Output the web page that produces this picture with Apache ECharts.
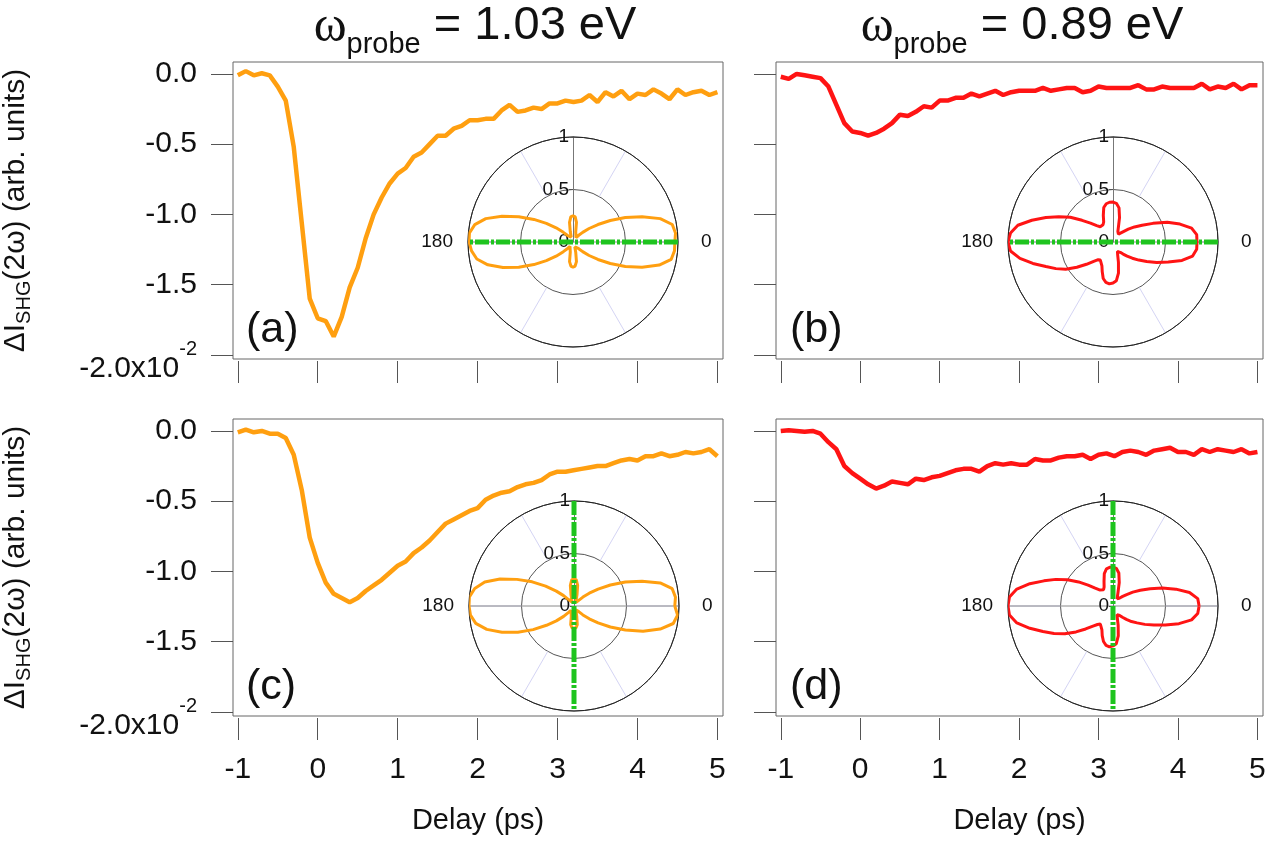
<!DOCTYPE html>
<html><head><meta charset="utf-8">
<script src="https://cdn.jsdelivr.net/npm/echarts@6/dist/echarts.min.js"></script>
<style>html,body{margin:0;padding:0;background:#fff}#c{width:1286px;height:846px}</style>
</head><body><div id="c"></div>
<script>
// ---------- data ----------
const delay = [-1,-0.9,-0.8,-0.7,-0.6,-0.5,-0.4,-0.3,-0.2,-0.1,0,0.1,0.2,0.3,0.4,0.5,0.6,0.7,0.8,0.9,1,1.1,1.2,1.3,1.4,1.5,1.6,1.7,1.8,1.9,2,2.1,2.2,2.3,2.4,2.5,2.6,2.7,2.8,2.9,3,3.1,3.2,3.3,3.4,3.5,3.6,3.7,3.8,3.9,4,4.1,4.2,4.3,4.4,4.5,4.6,4.7,4.8,4.9,5];
const traceA = [-0.01,0.02,-0.01,0.005,-0.01,-0.09,-0.19,-0.52,-1.06,-1.60,-1.74,-1.76,-1.87,-1.73,-1.52,-1.38,-1.17,-1.0,-0.88,-0.78,-0.71,-0.67,-0.59,-0.56,-0.50,-0.44,-0.44,-0.39,-0.37,-0.33,-0.33,-0.32,-0.32,-0.26,-0.22,-0.27,-0.26,-0.24,-0.25,-0.21,-0.21,-0.19,-0.20,-0.19,-0.15,-0.20,-0.13,-0.16,-0.12,-0.18,-0.14,-0.15,-0.11,-0.14,-0.18,-0.11,-0.15,-0.13,-0.12,-0.15,-0.13];
const traceB = [-0.02,-0.035,0.0,-0.01,-0.02,-0.03,-0.09,-0.22,-0.35,-0.41,-0.42,-0.44,-0.42,-0.39,-0.35,-0.29,-0.30,-0.27,-0.23,-0.24,-0.19,-0.19,-0.17,-0.17,-0.14,-0.16,-0.14,-0.12,-0.15,-0.13,-0.12,-0.12,-0.12,-0.10,-0.12,-0.11,-0.10,-0.10,-0.13,-0.12,-0.09,-0.10,-0.10,-0.10,-0.10,-0.08,-0.11,-0.11,-0.09,-0.10,-0.10,-0.10,-0.10,-0.07,-0.11,-0.09,-0.10,-0.07,-0.11,-0.08,-0.08];
const traceC = [-0.01,0.01,-0.01,0.0,-0.02,-0.02,-0.05,-0.17,-0.42,-0.76,-0.94,-1.08,-1.16,-1.19,-1.22,-1.19,-1.14,-1.10,-1.06,-1.01,-0.96,-0.93,-0.87,-0.83,-0.78,-0.72,-0.66,-0.63,-0.60,-0.57,-0.55,-0.49,-0.46,-0.44,-0.43,-0.40,-0.38,-0.37,-0.35,-0.31,-0.29,-0.29,-0.28,-0.27,-0.26,-0.25,-0.25,-0.23,-0.21,-0.20,-0.21,-0.18,-0.18,-0.16,-0.18,-0.17,-0.15,-0.16,-0.15,-0.13,-0.18];
const traceD = [0.0,0.005,0.0,-0.005,0.0,-0.02,-0.08,-0.13,-0.25,-0.30,-0.34,-0.38,-0.41,-0.39,-0.36,-0.37,-0.38,-0.34,-0.35,-0.33,-0.32,-0.30,-0.28,-0.27,-0.27,-0.29,-0.25,-0.23,-0.24,-0.23,-0.24,-0.24,-0.20,-0.21,-0.21,-0.19,-0.18,-0.18,-0.17,-0.20,-0.17,-0.16,-0.18,-0.15,-0.14,-0.15,-0.17,-0.14,-0.13,-0.12,-0.15,-0.15,-0.17,-0.13,-0.15,-0.13,-0.14,-0.15,-0.13,-0.16,-0.15];

const polarAngles = [0,5,10,15,20,25,30,35,40,45,50,55,60,65,70,75,80,85,90,95,100,105,110,115,120,125,130,135,140,145,150,155,160,165,170,175,180,185,190,195,200,205,210,215,220,225,230,235,240,245,250,255,260,265,270,275,280,285,290,295,300,305,310,315,320,325,330,335,340,345,350,355,360];
const polarA = [0.97,0.98,0.96,0.86,0.70,0.55,0.41,0.29,0.20,0.13,0.08,0.05,0.04,0.04,0.05,0.10,0.19,0.24,0.25,0.24,0.19,0.10,0.05,0.04,0.04,0.05,0.08,0.13,0.21,0.31,0.43,0.57,0.72,0.86,0.95,0.99,0.99,0.97,0.93,0.84,0.71,0.57,0.43,0.31,0.21,0.13,0.08,0.05,0.04,0.04,0.05,0.10,0.19,0.23,0.24,0.23,0.19,0.10,0.05,0.04,0.04,0.05,0.08,0.13,0.20,0.29,0.41,0.55,0.70,0.85,0.95,0.97,0.97];
const polarB = [0.80,0.80,0.76,0.66,0.55,0.42,0.32,0.25,0.19,0.14,0.11,0.09,0.09,0.11,0.15,0.24,0.33,0.37,0.38,0.38,0.37,0.34,0.27,0.21,0.19,0.18,0.19,0.22,0.28,0.36,0.47,0.57,0.68,0.80,0.92,0.98,1.00,0.98,0.90,0.79,0.68,0.60,0.52,0.42,0.33,0.26,0.22,0.21,0.22,0.25,0.30,0.36,0.39,0.40,0.39,0.37,0.30,0.20,0.13,0.10,0.10,0.12,0.15,0.19,0.24,0.30,0.37,0.46,0.56,0.68,0.77,0.80,0.80];
const polarC = [0.96,0.97,0.95,0.85,0.69,0.54,0.40,0.28,0.19,0.12,0.07,0.05,0.04,0.04,0.06,0.11,0.20,0.25,0.26,0.25,0.20,0.11,0.06,0.04,0.04,0.05,0.08,0.14,0.22,0.33,0.46,0.60,0.75,0.88,0.96,1.00,1.00,0.99,0.95,0.86,0.73,0.59,0.45,0.32,0.22,0.14,0.08,0.05,0.04,0.04,0.06,0.10,0.18,0.21,0.22,0.21,0.18,0.10,0.06,0.04,0.04,0.05,0.07,0.12,0.19,0.28,0.40,0.54,0.70,0.85,0.96,0.99,0.96];
const polarD = [0.82,0.81,0.74,0.62,0.50,0.39,0.30,0.23,0.17,0.13,0.10,0.08,0.08,0.10,0.14,0.23,0.32,0.36,0.37,0.37,0.36,0.32,0.25,0.20,0.18,0.18,0.20,0.24,0.31,0.40,0.50,0.60,0.70,0.82,0.93,0.99,1.00,0.99,0.93,0.82,0.71,0.62,0.53,0.43,0.34,0.27,0.23,0.21,0.22,0.25,0.30,0.35,0.38,0.39,0.38,0.36,0.29,0.19,0.12,0.09,0.09,0.11,0.14,0.18,0.23,0.28,0.35,0.43,0.53,0.65,0.76,0.81,0.82];
const pumpAngle = [0, 0, 90, 90];

const xTicks = [-1,0,1,2,3,4,5];
const yTicks = [0,-0.5,-1,-1.5,-2];
const radialTicks = [0, 0.5, 1];
const panelLetters = ['(a)','(b)','(c)','(d)'];
const probeEnergies = ['1.03 eV','0.89 eV'];

// ---------- layout / style ----------
const FONT = 'Liberation Sans';
const ORANGE = '#ff9f10', RED = '#ff1414', GREEN = '#1fc41f';
const traces = [traceA, traceB, traceC, traceD];
const polars = [polarA, polarB, polarC, polarD];
const colors = [ORANGE, RED, ORANGE, RED];
const grids = [
  {left:232, top:62, width:491, height:297},
  {left:776, top:62, width:487, height:297},
  {left:232, top:419, width:491, height:297},
  {left:776, top:419, width:487, height:297}
];
const centers = [[573,242],[1113,242],[574,606],[1113,606]];
const R = 105;

const option = {
  animation:false,
  backgroundColor:'#fff',
  textStyle:{fontFamily:FONT, color:'#111'},
  title:[], grid:[], xAxis:[], yAxis:[], polar:[], angleAxis:[], radiusAxis:[], series:[]
};

probeEnergies.forEach((e, k) => {
  option.title.push({
    text:'{w|ω}{p|probe}{t| = ' + e + '}',
    left: k === 0 ? 470 : 1017, top:-2, textAlign:'center',
    textStyle:{fontWeight:'normal', rich:{
      w:{fontFamily:'Liberation Serif', fontSize:50, fontWeight:'normal', lineHeight:46, verticalAlign:'top', color:'#111'},
      p:{fontFamily:FONT, fontSize:29, fontWeight:'normal', lineHeight:20, padding:[27,0,0,0], verticalAlign:'top', color:'#111'},
      t:{fontFamily:FONT, fontSize:47, fontWeight:'normal', lineHeight:46, verticalAlign:'top', color:'#111'}
    }}
  });
});

grids.forEach((g, i) => {
  option.title.push({
    text: panelLetters[i], left: g.left + 9, top: g.top + 242,
    textStyle:{fontFamily:FONT, fontSize:43, fontWeight:'normal', color:'#111'}
  });
  option.grid.push(Object.assign({show:true, borderColor:'#666', borderWidth:1, backgroundColor:'transparent'}, g));
  const bottom = i >= 2, left = i % 2 === 0;
  option.xAxis.push({
    gridIndex:i, type:'value', min:-1.06, max:5.07, offset:2, position:'bottom',
    axisLine:{show:false, onZero:false},
    axisTick:{show:true, length:22, customValues:xTicks, lineStyle:{color:'#555', width:1}},
    axisLabel:{show:bottom, customValues:xTicks, fontFamily:FONT, fontSize:30, color:'#111', margin:37},
    splitLine:{show:false},
    name: bottom ? 'Delay (ps)' : '', nameLocation:'middle', nameGap:88,
    nameTextStyle:{fontFamily:FONT, fontSize:29, color:'#111'}
  });
  option.yAxis.push({
    gridIndex:i, type:'value', min:-2.03, max:0.085, position:'left',
    axisLine:{show:false, onZero:false},
    axisTick:{show:true, length:22, customValues:yTicks, lineStyle:{color:'#555', width:1}},
    axisLabel:{show:left, customValues:yTicks, margin:36,
      formatter: v => Math.abs(v + 2) < 1e-9 ? '{b|-2.0x10}{s|-2}' : '{n|' + v.toFixed(1) + '}',
      rich:{
        n:{fontFamily:FONT, fontSize:30, color:'#111'},
        b:{fontFamily:FONT, fontSize:30, lineHeight:30, padding:[14,0,0,0], verticalAlign:'top', color:'#111'},
        s:{fontFamily:FONT, fontSize:20, lineHeight:20, verticalAlign:'top', color:'#111'}
      }},
    splitLine:{show:false},
    name: left ? '{m|ΔI}{s|SHG}{m|(2ω) (arb. units)}' : '', nameLocation:'middle', nameRotate:90, nameGap:202,
    nameTextStyle:{rich:{
      m:{fontFamily:FONT, fontSize:30, lineHeight:30, verticalAlign:'top', color:'#111'},
      s:{fontFamily:FONT, fontSize:20, lineHeight:20, padding:[13,0,0,0], verticalAlign:'top', color:'#111'}
    }}
  });
  option.series.push({
    type:'line', xAxisIndex:i, yAxisIndex:i, showSymbol:false, z:3,
    lineStyle:{color:colors[i], width:4.5}, itemStyle:{color:colors[i]},
    data: delay.map((t, k) => [t, traces[i][k]])
  });

  // ---- polar inset: three stacked polar systems ----
  const c = centers[i];
  const pS = 3*i, pD = 3*i + 1, pR = 3*i + 2;
  option.polar.push({center:c, radius:[R/2, R]});
  option.polar.push({center:c, radius:R});
  option.polar.push({center:c, radius:R});
  // spokes ring
  option.angleAxis.push({polarIndex:pS, type:'value', min:0, max:360, interval:60, startAngle:0, clockwise:false,
    axisLine:{show:false}, axisTick:{show:false}, axisLabel:{show:false},
    splitLine:{show:true, lineStyle:{color:'#d4d4f4', width:1}}});
  option.radiusAxis.push({polarIndex:pS, type:'value', min:0, max:1, show:false, splitLine:{show:false}});
  // data system
  option.angleAxis.push({polarIndex:pD, type:'value', min:0, max:360, interval:180, startAngle:0, clockwise:false,
    axisLine:{show:true, lineStyle:{color:'#222', width:1}}, axisTick:{show:false},
    axisLabel:{show:true, margin:15,
      formatter: v => v === 0 ? '{r|0}' : (v === 180 ? '{l|180}' : ''),
      rich:{r:{fontFamily:FONT, fontSize:19, color:'#111', padding:[0,0,0,8]}, l:{fontFamily:FONT, fontSize:19, color:'#111'}}},
    splitLine:{show:true, lineStyle:{color:'#8a8a8a', width:1}}});
  option.radiusAxis.push({polarIndex:pD, type:'value', min:0, max:1, interval:0.5,
    axisLine:{show:false}, axisTick:{show:false}, axisLabel:{show:false},
    splitLine:{show:true, lineStyle:{color:'#555', width:1}}});
  // radial scale (vertical)
  option.angleAxis.push({polarIndex:pR, type:'value', min:0, max:360, startAngle:90, show:false});
  option.radiusAxis.push({polarIndex:pR, type:'value', min:0, max:1,
    axisLine:{show:true, lineStyle:{color:'#777', width:1}},
    axisTick:{show:true, length:4, customValues:radialTicks, lineStyle:{color:'#555'}},
    axisLabel:{show:true, customValues:radialTicks, fontFamily:FONT, fontSize:19, color:'#111', margin:4},
    splitLine:{show:false}});

  option.series.push({
    type:'line', coordinateSystem:'polar', polarIndex:pD, showSymbol:false, z:5,
    lineStyle:{color:colors[i], width:3}, itemStyle:{color:colors[i]},
    data: polarAngles.map((a, k) => [polars[i][k], a])
  });
  option.series.push({
    type:'line', coordinateSystem:'polar', polarIndex:pD, showSymbol:false, z:6,
    lineStyle:{color:GREEN, width:5, type:[14,2,3,2], cap:'butt'}, itemStyle:{color:GREEN},
    data: [[1, pumpAngle[i]], [1, pumpAngle[i] + 180]]
  });
});

const chart = echarts.init(document.getElementById('c'), null, {renderer:'canvas'});
chart.setOption(option);
</script>
</body></html>
